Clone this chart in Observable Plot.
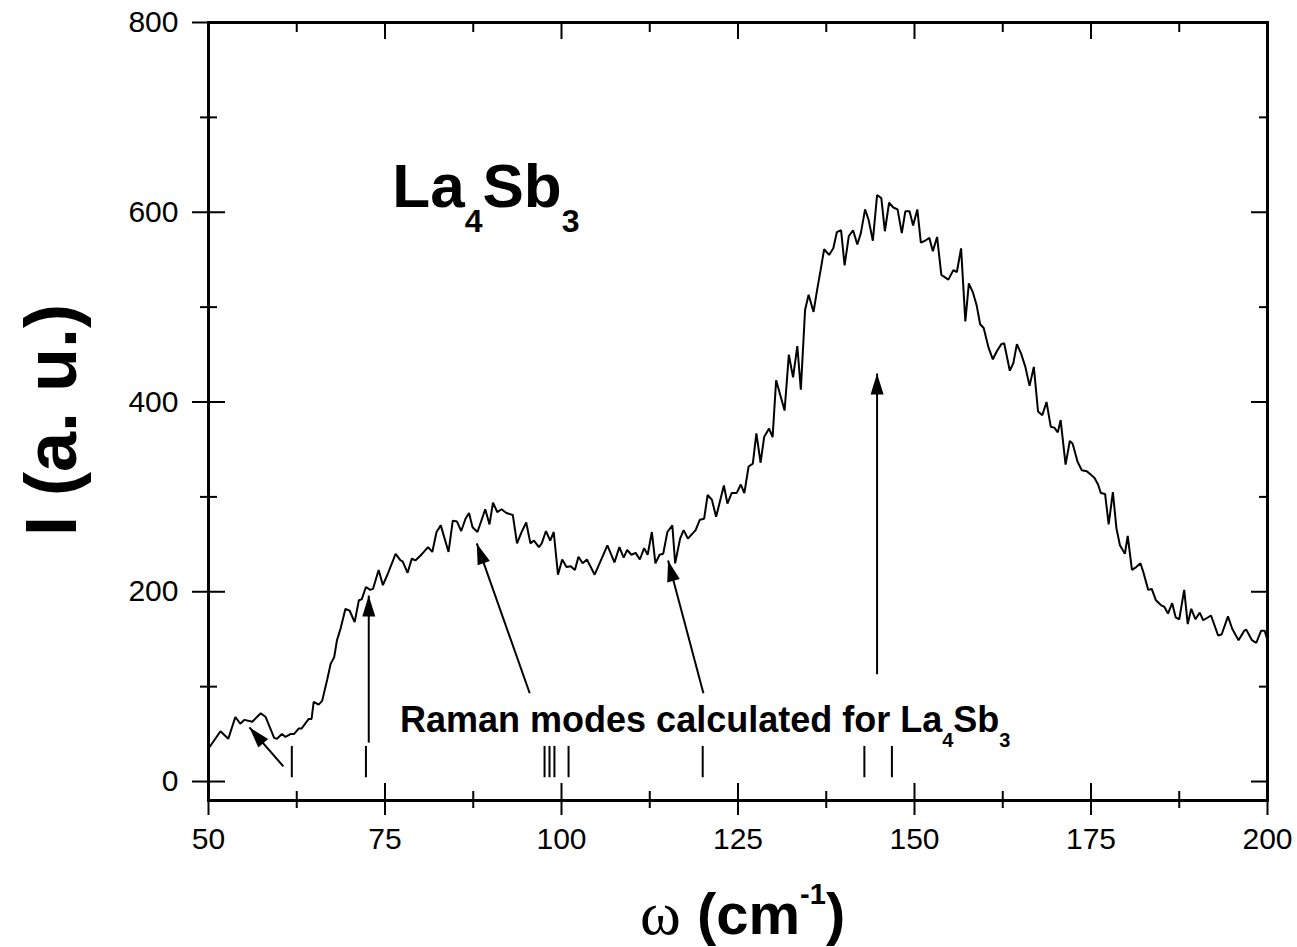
<!DOCTYPE html>
<html>
<head>
<meta charset="utf-8">
<script src="https://cdn.jsdelivr.net/npm/d3@7"></script>
<script src="https://cdn.jsdelivr.net/npm/@observablehq/plot@0.6"></script>
<style>
html, body { margin: 0; padding: 0; background: #fff; overflow: hidden; }
#chart svg { display: block; }
</style>
</head>
<body>
<div id="chart"></div>
<script>
// ---------- data ----------
const omega = [50.0,50.3,51.7,52.8,53.8,54.5,55.1,56.2,57.4,58.1,59.3,59.7,60.4,60.9,61.6,62.1,62.8,63.2,63.7,64.2,64.6,64.9,65.6,66.1,66.8,67.3,67.8,68.2,68.7,69.4,70.0,70.7,71.3,71.7,72.3,72.9,73.3,74.1,74.7,75.4,76.5,77.2,77.5,78.2,78.8,79.3,80.0,80.5,81.1,81.7,82.3,82.9,84.0,84.6,85.2,85.8,86.4,86.9,87.4,88.1,89.2,89.8,90.3,90.9,91.5,92.2,93.1,93.7,94.3,95.0,95.6,96.1,96.8,97.2,97.8,98.4,98.9,99.5,100.1,100.7,101.3,101.9,102.4,103.0,103.6,104.7,106.5,107.5,108.2,108.8,109.3,109.9,110.5,111.1,111.7,112.2,112.8,113.3,113.9,114.4,115.0,115.7,116.1,116.8,117.3,117.9,119.0,119.6,120.2,120.7,121.3,121.9,123.0,123.5,124.1,124.8,125.4,125.9,126.5,127.1,127.6,128.2,128.7,129.4,129.9,130.4,131.6,132.2,132.8,133.4,133.9,134.5,135.0,135.7,136.2,136.7,137.2,137.9,138.5,139.0,139.6,140.1,140.7,141.3,141.9,142.4,143.0,143.5,144.1,144.7,145.3,145.8,146.4,147.0,147.6,148.2,148.7,149.3,149.8,150.4,150.9,151.5,152.1,152.6,153.2,153.8,154.8,155.5,156.0,156.6,157.2,157.7,158.3,158.8,159.3,159.8,160.5,161.1,161.7,162.3,162.7,163.5,164.0,164.5,165.1,165.7,166.3,166.9,167.5,168.1,168.7,169.3,169.8,170.3,170.7,171.4,172.0,172.4,173.1,173.7,174.4,174.9,175.5,176.0,176.4,177.0,177.5,178.1,178.6,179.1,179.8,180.2,180.8,181.4,182.0,182.4,183.1,183.6,184.2,184.9,185.4,185.9,186.5,187.0,187.5,188.2,188.7,189.2,189.8,190.4,190.9,192.0,193.0,193.5,194.4,195.0,195.9,196.7,197.0,197.8,198.4,199.1,199.6,200.0];
const intensity = [35,38,53,45,68,61,65,63,72,68,46,45,50,47,50,50,56,56,61,66,66,84,81,85,107,124,131,149,161,182,180,168,191,192,205,202,203,223,207,219,240,233,232,220,235,233,238,242,247,242,263,270,242,275,274,264,277,283,268,263,287,271,294,284,287,283,281,251,262,273,251,254,247,251,264,254,263,218,234,226,227,223,237,230,234,218,249,231,247,236,244,239,241,234,246,239,263,230,239,240,263,270,230,256,265,256,265,276,277,302,297,279,312,293,304,304,313,304,332,335,367,336,363,372,363,423,391,450,426,459,413,497,513,495,518,539,561,555,562,579,581,544,575,581,566,578,603,592,570,618,615,580,610,605,603,578,601,601,586,603,568,570,573,559,574,534,529,539,537,562,485,525,515,502,482,478,457,445,454,461,462,433,441,461,451,437,417,437,390,386,400,374,373,368,381,334,359,356,337,328,327,324,320,313,304,303,271,305,267,249,240,259,223,226,230,221,202,203,191,186,184,177,188,173,171,202,166,182,171,178,170,175,154,155,174,161,149,159,160,149,146,159,159,149];

// calculated Raman mode positions (cm^-1) and the extent of their marker lines (a.u.)
const modePositions = [61.8, 72.3, 97.6, 98.3, 99.0, 101.0, 120.0, 142.9, 146.8];
const modeSpan = [4, 37];

// annotation arrows: tail -> head
const arrowTailX = [60.6, 72.7, 95.5, 120.1, 144.7];
const arrowTailY = [16, 41, 93, 93, 113];
const arrowHeadX = [55.8, 72.7, 88.0, 115.1, 144.7];
const arrowHeadY = [57, 196, 251, 233, 430];

// axis ticks
const xMajor = [50, 75, 100, 125, 150, 175, 200];
const xMinor = [62.5, 87.5, 112.5, 137.5, 162.5, 187.5];
const yMajor = [0, 200, 400, 600, 800];
const yMinor = [100, 300, 500, 700];

// text labels
const compoundLabel = {x: 76.1, y: 605, parts: [["La", 0], ["4", 1], ["Sb", 0], ["3", 1]]};
const modesLabel = {x: 77.2, y: 51.6, parts: [["Raman modes calculated for La", 0], ["4", 1], ["Sb", 0], ["3", 1]]};
const xTitle = "(cm";
const yTitle = "I (a. u.)";

// ---------- chart ----------
const FONT = "'Liberation Sans', Arial, Helvetica, sans-serif";
const spectrum = omega.map((w, i) => ({w, I: intensity[i]}));
const arrows = arrowTailX.map((_, i) => ({x1: arrowTailX[i], y1: arrowTailY[i], x2: arrowHeadX[i], y2: arrowHeadY[i]}));

function drawHeads(index, scales, values, dimensions, context, next) {
  const g = next(index, scales, values, dimensions, context);
  const X1 = values.x1, Y1 = values.y1, X2 = values.x2, Y2 = values.y2;
  const L = 21, W = 6.5;
  for (const i of index) {
    const dx = X2[i] - X1[i], dy = Y2[i] - Y1[i];
    const len = Math.hypot(dx, dy);
    const ux = dx / len, uy = dy / len;
    const bx = X2[i] - ux * L, by = Y2[i] - uy * L;
    const p = [[X2[i], Y2[i]], [bx - uy * W, by + ux * W], [bx + uy * W, by - ux * W]];
    d3.select(g).append("path")
      .attr("d", "M" + p.map(q => q.join(",")).join("L") + "Z")
      .attr("fill", "#000").attr("stroke", "none");
  }
  return g;
}

const hideText = {strokeWidth: 2, label: null, fill: "none"};

const chart = Plot.plot({
  width: 1297,
  height: 947,
  marginLeft: 208,
  marginRight: 30,
  marginTop: 22,
  marginBottom: 147,
  style: {background: "#fff", color: "#000", fontFamily: FONT, fontSize: "30px"},
  x: {domain: [50, 200]},
  y: {domain: [-20, 800]},
  marks: [
    Plot.axisX(xMajor, {anchor: "bottom", tickSize: 15, tickPadding: 12, strokeWidth: 2, fontSize: 30, label: null}),
    Plot.axisX(xMajor, {anchor: "bottom", tickSize: -17, ...hideText}),
    Plot.axisX(xMinor, {anchor: "bottom", tickSize: 8, ...hideText}),
    Plot.axisX(xMinor, {anchor: "bottom", tickSize: -9, ...hideText}),
    Plot.axisX(xMajor, {anchor: "top", tickSize: -16, ...hideText}),
    Plot.axisX(xMinor, {anchor: "top", tickSize: -9, ...hideText}),
    Plot.axisY(yMajor, {anchor: "left", tickSize: 16, tickPadding: 14, strokeWidth: 2, fontSize: 30, label: null}),
    Plot.axisY(yMajor, {anchor: "left", tickSize: -17, ...hideText}),
    Plot.axisY(yMinor, {anchor: "left", tickSize: 8, ...hideText}),
    Plot.axisY(yMinor, {anchor: "left", tickSize: -9, ...hideText}),
    Plot.axisY(yMajor, {anchor: "right", tickSize: -17, ...hideText}),
    Plot.axisY(yMinor, {anchor: "right", tickSize: -9, ...hideText}),
    Plot.frame({stroke: "#000", strokeWidth: 3}),
    Plot.line(spectrum, {x: "w", y: "I", stroke: "#000", strokeWidth: 2, strokeLinejoin: "miter"}),
    Plot.ruleX(modePositions, {x: d => d, y1: () => modeSpan[0], y2: () => modeSpan[1], stroke: "#000", strokeWidth: 2}),
    Plot.link(arrows, {x1: "x1", y1: "y1", x2: "x2", y2: "y2", stroke: "#000", strokeWidth: 2, render: drawHeads})
  ]
});

document.getElementById("chart").appendChild(chart);

// ---------- text annotations (positioned through the chart's scales) ----------
const sx = chart.scale("x"), sy = chart.scale("y");
const svg = d3.select(chart);

function subText(label, size, subSize, shift) {
  const t = svg.append("text")
    .attr("x", sx.apply(label.x)).attr("y", sy.apply(label.y))
    .attr("text-anchor", "start")
    .attr("font-family", FONT).attr("font-weight", "bold")
    .attr("font-size", size).attr("fill", "#000");
  let cur = 0;
  for (const [s, sub] of label.parts) {
    const target = sub ? shift : 0;
    t.append("tspan").attr("dy", target - cur).attr("font-size", sub ? subSize : size).text(s);
    cur = target;
  }
}
subText(compoundLabel, 62, 32, 25);
subText(modesLabel, 36, 20, 15);

// x-axis title: ω (cm-1)
const xt = svg.append("text").attr("x", 640).attr("y", 934).attr("text-anchor", "start")
  .attr("font-family", FONT).attr("font-size", 58).attr("fill", "#000");
xt.append("tspan").attr("font-family", "'Liberation Serif', 'Times New Roman', serif").attr("font-size", 62).text("ω");
xt.append("tspan").attr("font-weight", "bold").text(" " + xTitle);
xt.append("tspan").attr("font-weight", "bold").attr("font-size", 29).attr("dy", -30).text("-1");
xt.append("tspan").attr("font-weight", "bold").attr("dy", 30).text(")");

// y-axis title
svg.append("text")
  .attr("transform", "translate(76,420) rotate(-90)")
  .attr("text-anchor", "middle")
  .attr("font-family", FONT).attr("font-weight", "bold").attr("font-size", 72).attr("fill", "#000")
  .text(yTitle);
</script>
</body>
</html>
